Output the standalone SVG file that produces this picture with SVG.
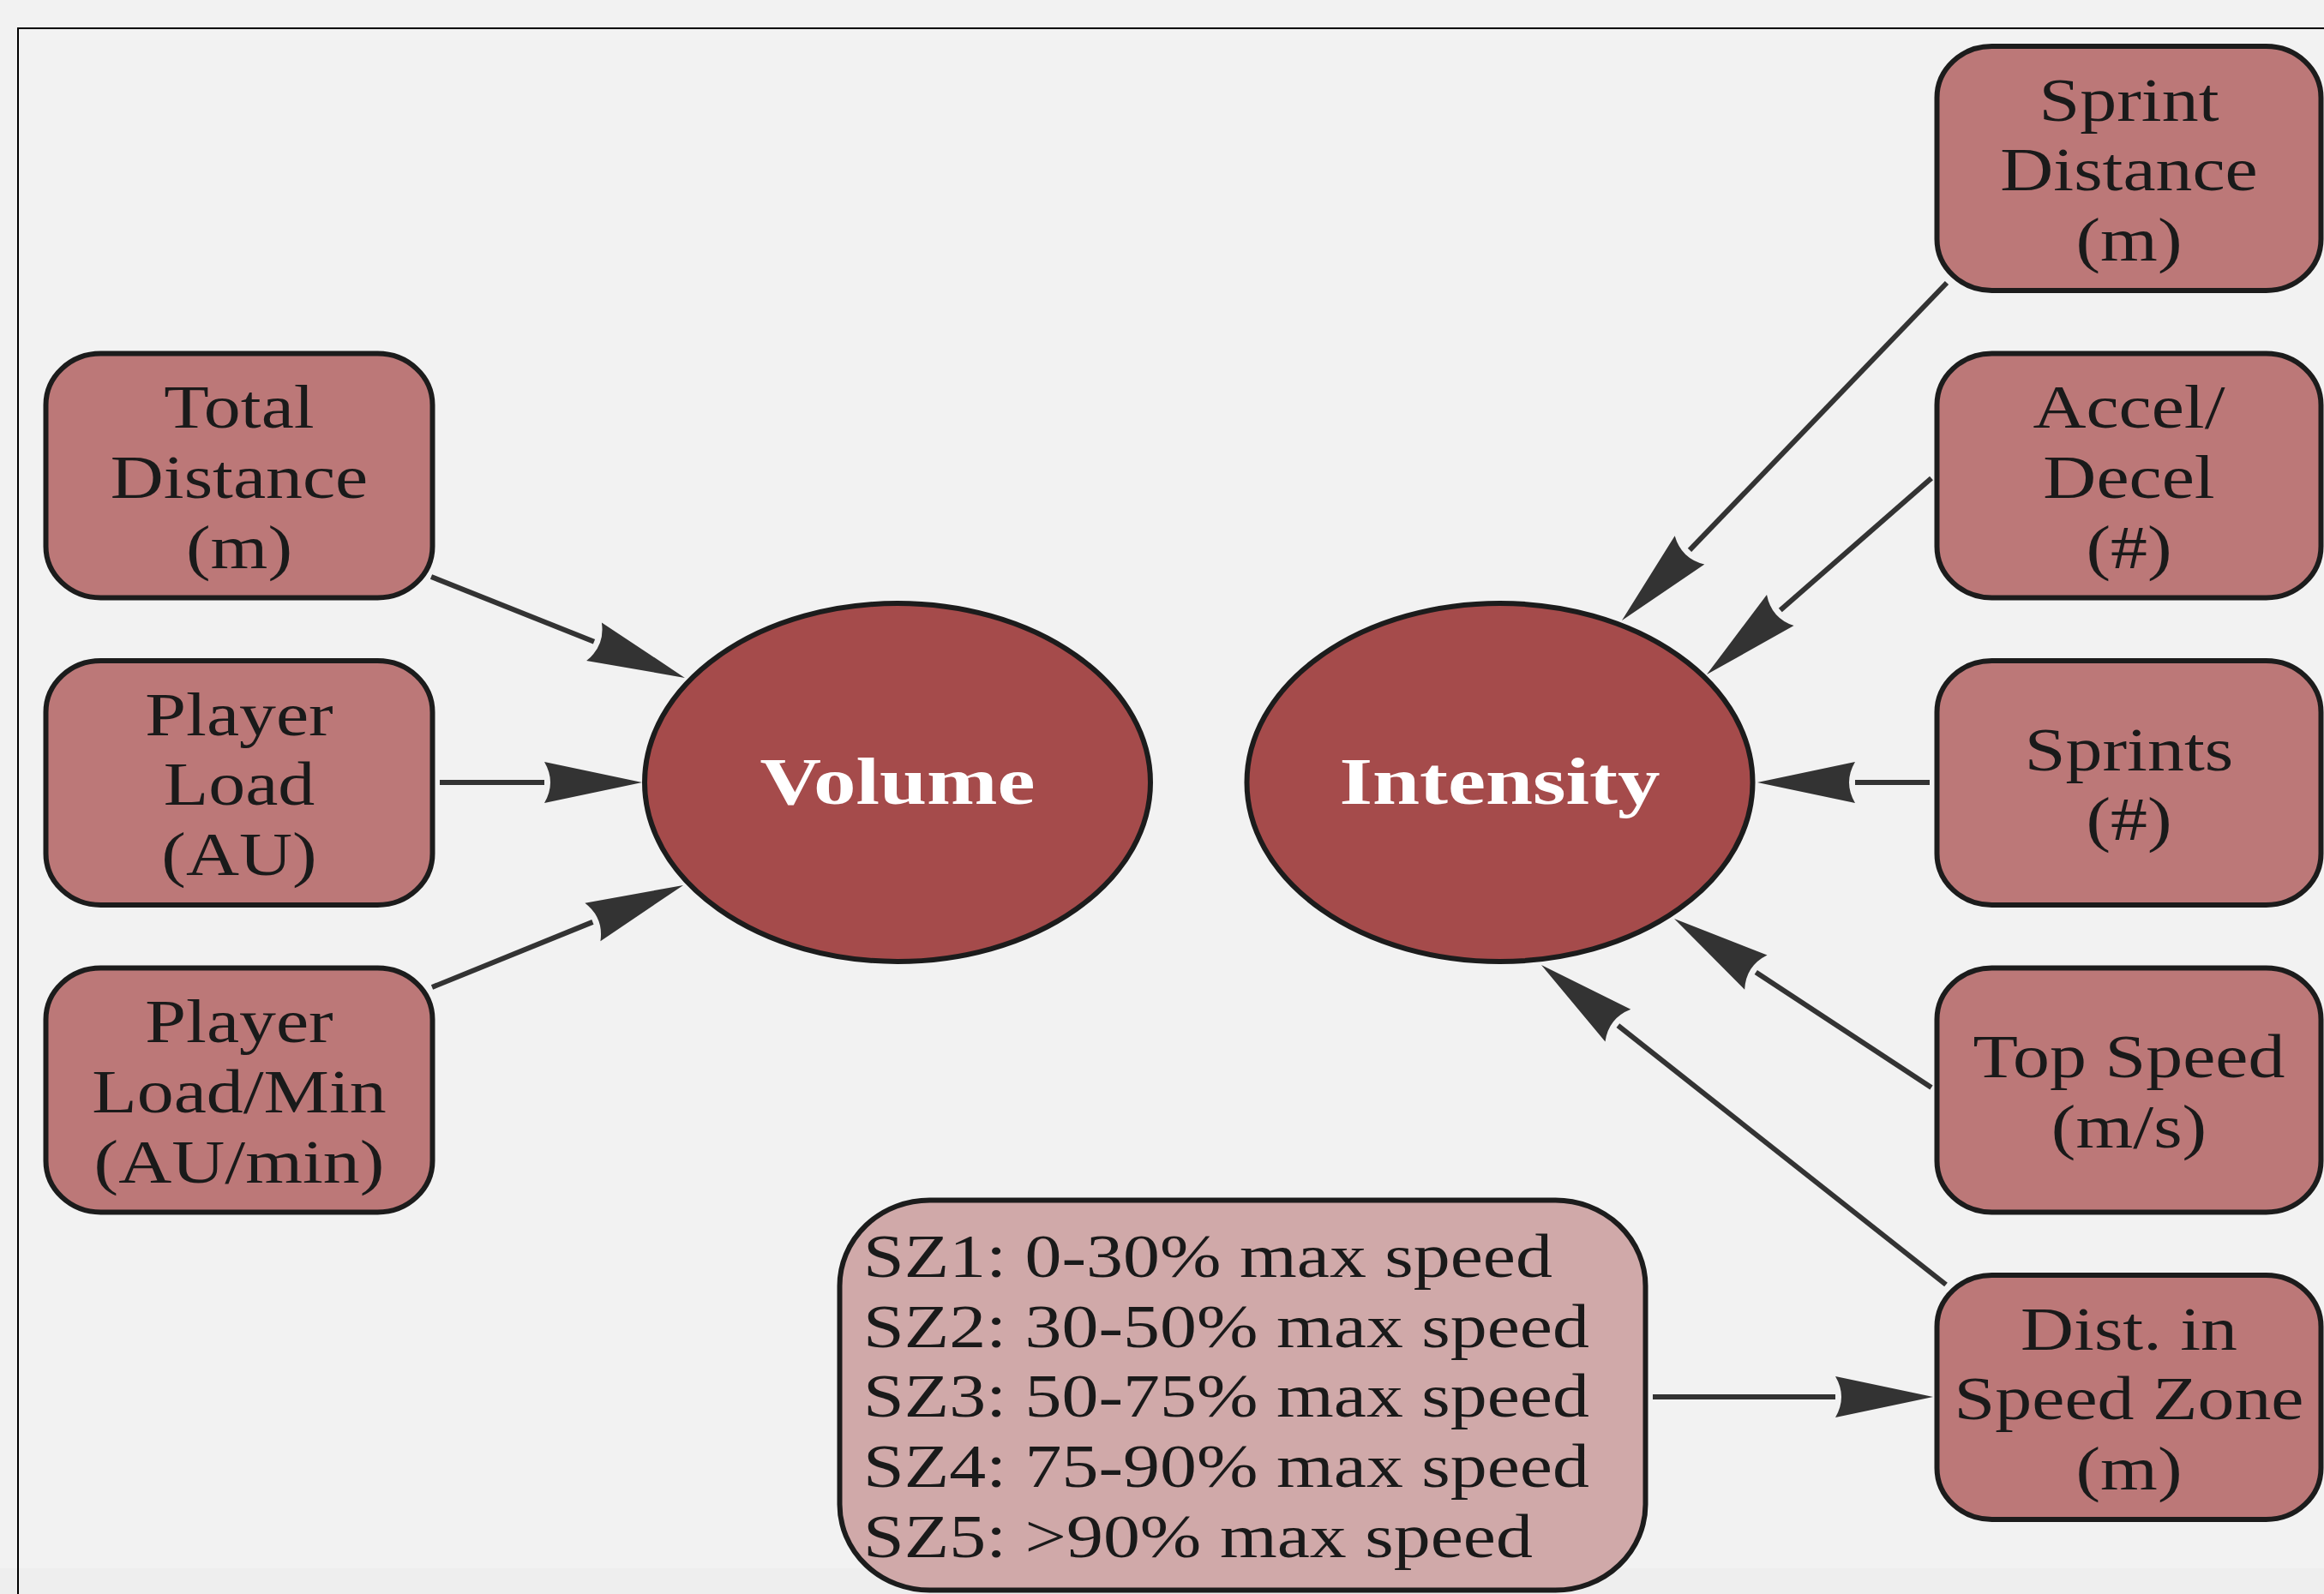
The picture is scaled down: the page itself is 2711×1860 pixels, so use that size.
<svg xmlns="http://www.w3.org/2000/svg" width="2711" height="1860" viewBox="0 0 2711 1860">
<style>
.box{fill:#bc7878;stroke:#1c1c1c;stroke-width:6}
.sz{fill:#d0a9a9;stroke:#1c1c1c;stroke-width:6}
.ell{fill:#a54b4b;stroke:#1c1c1c;stroke-width:6}
.lbl{font-family:"Liberation Serif","Times New Roman",serif;font-size:71px;fill:#1a1a1a;text-anchor:middle}
.lft{font-family:"Liberation Serif","Times New Roman",serif;font-size:71px;fill:#1a1a1a;text-anchor:start}
.big{font-family:"Liberation Serif","Times New Roman",serif;font-size:78px;font-weight:bold;fill:#ffffff;text-anchor:middle}
.edge{stroke:#333333;stroke-width:6;fill:none;marker-end:url(#ah)}
</style>
<defs>
<marker id="ah" markerUnits="userSpaceOnUse" markerWidth="130" markerHeight="60" refX="0" refY="0" viewBox="-2 -30 130 60" orient="auto" overflow="visible">
<path d="M0,-24 L114,0 L0,24 Q14,0 0,-24 Z" fill="#333333"/>
</marker>
</defs>
<rect x="0" y="0" width="2711" height="1860" fill="#f2f2f2"/>
<rect x="0" y="1830" width="2711" height="30" fill="#eeeeee"/>
<path d="M21,1860 V33 H2711" fill="none" stroke="#000" stroke-width="2"/>
<g id="connectors">
<line class="edge" x1="503" y1="673" x2="693" y2="748.7"/>
<line class="edge" x1="513" y1="913" x2="635" y2="913"/>
<line class="edge" x1="504" y1="1152" x2="691.4" y2="1075.9"/>
<line class="edge" x1="2271" y1="330" x2="1971" y2="641.9"/>
<line class="edge" x1="2253" y1="558" x2="2076.8" y2="712"/>
<line class="edge" x1="2251" y1="913" x2="2164" y2="913"/>
<line class="edge" x1="2253" y1="1269" x2="2048.3" y2="1134.6"/>
<line class="edge" x1="2270" y1="1499" x2="1887.4" y2="1196.7"/>
<line class="edge" x1="1928" y1="1630" x2="2141" y2="1630"/>
</g>
<g id="volume">
<ellipse class="ell" cx="1047" cy="913" rx="295" ry="209"/>
<text class="big" transform="translate(1047,938) scale(1.27,1)">Volume</text>
</g>
<g id="intensity">
<ellipse class="ell" cx="1749.5" cy="913" rx="295" ry="209"/>
<text class="big" transform="translate(1749.5,938) scale(1.27,1)">Intensity</text>
</g>
<g id="total-distance">
<rect class="box" x="53.5" y="412.5" width="451" height="285" rx="64" ry="60"/>
<text class="lbl" transform="translate(279,499) scale(1.21,1)"><tspan x="0" y="0">Total</tspan><tspan x="0" y="82">Distance</tspan><tspan x="0" y="164">(m)</tspan></text>
</g>
<g id="player-load">
<rect class="box" x="53.5" y="771" width="451" height="285" rx="64" ry="60"/>
<text class="lbl" transform="translate(279,857.5) scale(1.21,1)"><tspan x="0" y="0">Player</tspan><tspan x="0" y="82">Load</tspan><tspan x="0" y="164">(AU)</tspan></text>
</g>
<g id="player-load-min">
<rect class="box" x="53.5" y="1129.5" width="451" height="285" rx="64" ry="60"/>
<text class="lbl" transform="translate(279,1216) scale(1.21,1)"><tspan x="0" y="0">Player</tspan><tspan x="0" y="82">Load/Min</tspan><tspan x="0" y="164">(AU/min)</tspan></text>
</g>
<g id="sprint-distance">
<rect class="box" x="2259.5" y="54" width="448" height="285" rx="64" ry="60"/>
<text class="lbl" transform="translate(2483.5,140.5) scale(1.21,1)"><tspan x="0" y="0">Sprint</tspan><tspan x="0" y="82">Distance</tspan><tspan x="0" y="164">(m)</tspan></text>
</g>
<g id="accel-decel">
<rect class="box" x="2259.5" y="412.5" width="448" height="285" rx="64" ry="60"/>
<text class="lbl" transform="translate(2483.5,499) scale(1.21,1)"><tspan x="0" y="0">Accel/</tspan><tspan x="0" y="82">Decel</tspan><tspan x="0" y="164">(#)</tspan></text>
</g>
<g id="sprints">
<rect class="box" x="2259.5" y="771" width="448" height="285" rx="64" ry="60"/>
<text class="lbl" transform="translate(2483.5,898.5) scale(1.21,1)"><tspan x="0" y="0">Sprints</tspan><tspan x="0" y="82">(#)</tspan></text>
</g>
<g id="top-speed">
<rect class="box" x="2259.5" y="1129.5" width="448" height="285" rx="64" ry="60"/>
<text class="lbl" transform="translate(2483.5,1257) scale(1.21,1)"><tspan x="0" y="0">Top Speed</tspan><tspan x="0" y="82">(m/s)</tspan></text>
</g>
<g id="dist-speed-zone">
<rect class="box" x="2259.5" y="1488" width="448" height="285" rx="64" ry="60"/>
<text class="lbl" transform="translate(2483.5,1574.5) scale(1.21,1)"><tspan x="0" y="0">Dist. in</tspan><tspan x="0" y="82">Speed Zone</tspan><tspan x="0" y="164">(m)</tspan></text>
</g>
<g id="speed-zones">
<rect class="sz" x="979.5" y="1400.5" width="940" height="455" rx="105" ry="100"/>
<text class="lft" transform="translate(1007,1490) scale(1.21,1)"><tspan x="0" y="0">SZ1: 0-30% max speed</tspan><tspan x="0" y="82">SZ2: 30-50% max speed</tspan><tspan x="0" y="163">SZ3: 50-75% max speed</tspan><tspan x="0" y="245">SZ4: 75-90% max speed</tspan><tspan x="0" y="327">SZ5: &gt;90% max speed</tspan></text>
</g>
</svg>
